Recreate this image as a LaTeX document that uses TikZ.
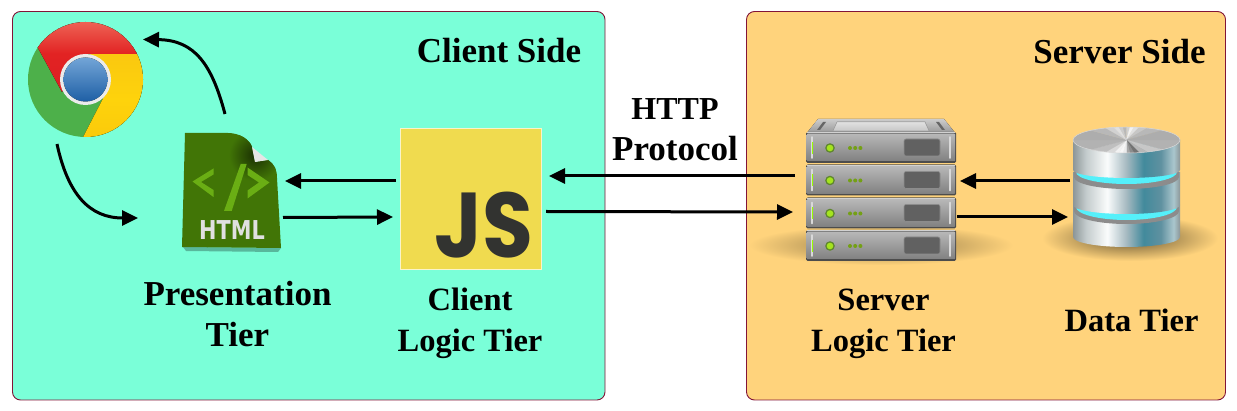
\documentclass[tikz,border=0pt]{standalone}
\usepackage{fontspec}
\setmainfont{Liberation Serif}
\newfontfamily\iconfont{DejaVu Sans}
\newfontfamily\jsfont{Poppins}
\usetikzlibrary{arrows.meta,calc}
\definecolor{clientbg}{RGB}{122,255,216}
\definecolor{serverbg}{RGB}{255,211,124}
\definecolor{panelline}{RGB}{130,20,55}
\definecolor{jsyellow}{RGB}{240,219,79}
\definecolor{jsdark}{RGB}{50,51,48}
\definecolor{htmlgreen}{RGB}{65,117,6}
\definecolor{htmllight}{RGB}{106,174,20}
\definecolor{ringcyan}{RGB}{85,240,250}
\definecolor{ledouter}{RGB}{95,135,45}
\definecolor{ledinner}{RGB}{165,228,30}
\definecolor{chromegreen}{RGB}{77,176,74}
\definecolor{mA}{RGB}{140,150,152}
\definecolor{mB}{RGB}{195,203,204}
\definecolor{mC}{RGB}{250,252,252}
\definecolor{mD}{RGB}{165,185,192}
\definecolor{mE}{RGB}{66,138,156}
\definecolor{mF}{RGB}{95,145,160}
\definecolor{mG}{RGB}{170,198,205}
\pgfdeclarehorizontalshading{metal}{100bp}{color(0bp)=(mA); color(25bp)=(mA); color(31bp)=(mB); color(41bp)=(mC); color(50bp)=(mD); color(58bp)=(mE); color(66bp)=(mF); color(72bp)=(mG); color(75bp)=(mA); color(100bp)=(mA)}
\tikzset{
  panel/.style={draw=panelline,line width=0.9pt,rounded corners=8pt},
  label/.style={font=\fontsize{35}{41}\selectfont\bfseries,align=center,anchor=base,inner sep=0pt},
  labelsmall/.style={label,font=\fontsize{32.5}{41}\selectfont\bfseries},
  link/.style={line width=3pt,-{Triangle[length=16pt,width=15pt]}},
  iconbox/.style={inner sep=0pt,outer sep=0pt},
  grille/.style={fill=black!62,draw=black!45,line width=0.6pt,rounded corners=2pt},
  handle/.style={draw=white!85!black,line width=1.6pt,line cap=round},
  metalband/.style={shading=metal,shading angle=0},
}
\begin{document}
\begin{tikzpicture}[x=1pt,y=-1pt]
\useasboundingbox (0,0) rectangle (1237,411);
% panels
\node[panel,fill=clientbg,iconbox,minimum width=592.5pt,minimum height=388.5pt] (client) at (308.75,205.75) {};
\node[panel,fill=serverbg,iconbox,minimum width=479pt,minimum height=388.5pt] (server side) at (986,205.75) {};
% chrome
\node[iconbox,circle,minimum size=115pt] (chrome) at (85.5,79.5) {};
\begin{scope}
  \clip (85.5,79.5) circle (57.5);
  \fill[chromegreen] (20,15) rectangle (150,145);
  \fill[top color={rgb,255:red,250;green,200;blue,15},bottom color={rgb,255:red,250;green,200;blue,10},middle color={rgb,255:red,254;green,211;blue,12}] (90,54) -- (150,54) -- (150,145) -- (79,145) -- (110,85) -- cycle;
  \fill[top color={rgb,255:red,240;green,112;blue,95},bottom color={rgb,255:red,222;green,30;blue,35},middle color={rgb,255:red,226;green,35;blue,35}] (85.5,54) -- (150,54) -- (150,15) -- (20,15) -- (20,17) -- (38,48) -- (62,92) -- cycle;
\end{scope}
\fill[white!92!black] (85.5,79.5) circle (25.5);
\fill[top color={rgb,255:red,115;green,165;blue,215},bottom color={rgb,255:red,30;green,95;blue,165}] (85.5,79.5) circle (22);
% html
\node[iconbox,minimum width=99pt,minimum height=115pt] (html) at (231.5,190.5) {};
\fill[black!28!clientbg] (183,247) -- (281,248) -- (278,252) -- (186,251) -- cycle;
\begin{scope}
  \clip (185,133) -- (228,133) .. controls (240,133) and (250,140) .. (252,147) -- (255,162) -- (268,160) .. controls (275,165) and (277,170) .. (277,178) -- (281,248) -- (182,247) -- cycle;
  \fill[htmlgreen] (175,125) rectangle (290,255);
  \shade[inner color=black!60!htmlgreen,outer color=htmlgreen] (255,155) circle (26);
\end{scope}
\fill[white!90!black] (252,147) -- (268,160) -- (255,162) -- cycle;
\fill[htmllight] (213.5,168.5) -- (192.5,181.5) -- (213.5,197) -- (213.5,190) -- (201,182) -- (213.5,174.5) -- cycle;
\fill[htmllight] (247.5,167.5) -- (269.5,182.5) -- (247.5,198.5) -- (247.5,190.5) -- (259,182.5) -- (247.5,175) -- cycle;
\fill[htmllight] (240.7,164) -- (246.7,164) -- (231.7,211) -- (224,211) -- cycle;
\node[iconbox,text=white!88!black,anchor=base,xscale=0.8] (htmltext) at (232,240) {\fontsize{26}{26}\selectfont\iconfont\bfseries HTML};
% js
\node[iconbox,fill=jsyellow,draw=white!70!jsyellow,line width=0.6pt,minimum size=141pt] (js) at (471,198.5) {};
\node[iconbox,text=jsdark,anchor=base,xscale=0.9] (jstext) at (484,258) {\raisebox{0pt}[0pt][0pt]{\fontsize{92}{92}\selectfont\jsfont\bfseries JS}};
% server
\node[iconbox,minimum width=150pt,minimum height=142pt] (server) at (881,190) {};
\shade[inner color=black!45!serverbg,outer color=serverbg] (881,245) ellipse (132 and 20);
\fill[top color=black!20,bottom color=black!42] (818,119) -- (944,119) -- (956,134) -- (806,134) -- cycle;
\fill[top color=black!12,bottom color=black!22,draw=black!35,line width=0.5pt] (837,122) -- (925,122) -- (929,131) -- (833,131) -- cycle;
\fill[black!60] (817,130) -- (823,122) -- (826,122) -- (820,130) -- cycle;
\fill[black!60] (942,130) -- (936,122) -- (939,122) -- (945,130) -- cycle;
\foreach \t in {132,164.5,197.5,230}{
  \fill[black!70,rounded corners=1.5pt] (806,\t) rectangle (956,\t+31);
  \fill[top color=black!28,bottom color=black!50,rounded corners=1pt] (806.7,\t+1.5) rectangle (955.3,\t+29.5);
  \draw[white!82!black,line width=1pt] (807,\t+1) -- (955,\t+1);
  \draw[handle] (812,\t+5) -- (812,\t+26);
  \draw[handle] (950,\t+5) -- (950,\t+26);
  \draw[lime!80!green,line width=1pt] (812,\t+10) -- (812,\t+22);
  \fill[ledouter] (830,\t+16) circle (4.8);
  \fill[ledinner] (830,\t+16) circle (3.3);
  \foreach \d in {850,855.2,860.4}{
    \fill[ledinner!70!black] (\d,\t+16) circle (2);
  }
  \node[grille,iconbox,anchor=north west,minimum width=36pt,minimum height=17pt] at (904,\t+7) {};
}
% database
\node[iconbox,minimum width=107pt,minimum height=120pt] (db) at (1126.5,187) {};
\shade[inner color=black!60!serverbg,outer color=serverbg] (1130,238) ellipse (88 and 23);
% bottom band and its lip
\path[metalband] (1073,205) -- (1180,205) -- (1180,237) arc (0:180:53.5 and 10) -- cycle;
\fill[black!45] (1074,205) -- (1179,205) -- (1179,211) arc (0:180:52.5 and 13) -- cycle;
\fill[ringcyan] (1076,200) -- (1177,200) -- (1177,207) arc (0:180:50.5 and 13) -- cycle;
% middle band
\path[metalband] (1073,172) -- (1180,172) -- (1180,205) arc (0:180:53.5 and 9) -- cycle;
\fill[black!45] (1074,172) -- (1179,172) -- (1179,177) arc (0:180:52.5 and 12) -- cycle;
\fill[ringcyan] (1076,165) -- (1177,165) -- (1177,172) arc (0:180:50.5 and 12) -- cycle;
% top band
\path[metalband] (1073,140) -- (1180,140) -- (1180,170) arc (0:180:53.5 and 8) -- cycle;
\begin{scope}
  \clip (1126.5,140) ellipse (53.5 and 13);
  \foreach \a/\g in {0/30,15/22,30/28,45/55,60/45,75/35,90/8,105/3,120/5,135/15,150/25,165/30,180/32,195/28,210/18,225/12,240/20,255/28,270/18,285/5,300/12,315/22,330/28,345/32}{
    \fill[black!\g,draw=black!\g,line width=0.2pt] (1126.5,140) -- +(\a:70) -- +(\a+15:70) -- cycle;
  }
\end{scope}
\draw[white!85!black,line width=0.5pt] (1126.5,140) ellipse (53.5 and 13);
% labels
\node[label] (clientlabel) at (499,63) {Client Side};
\node[label] (serverlabel) at (1119.5,64) {Server Side};
\node[label] (http) at (675,161) {\fontsize{32}{41}\selectfont HTTP\\Protocol};
\node[label] (pres) at (237.5,347) {Presentation\\Tier};
\node[labelsmall] (clogic) at (470,352) {Client\\Logic Tier};
\node[labelsmall] (slogic) at (883.5,352) {Server\\Logic Tier};
\node[labelsmall] (data) at (1131.5,332) {Data Tier};
% connectors
\draw[link] ([shift={(-6.5,-19)}]html.north) .. controls (212,65) and (195,40) .. ([shift={(0,-40)}]chrome.east);
\draw[link] ([shift={(-28.5,7)}]chrome.south) .. controls (68,195) and (90,218) .. ([shift={(-44,27.5)}]html.west);
\draw[link] ([shift={(-4.5,-17.5)}]js.west) -- ([shift={(4,-9.5)}]html.east);
\draw[link] ([shift={(2,27)}]html.east) -- ([shift={(-7.5,18.5)}]js.west);
\draw[link] ([shift={(-11,-14)}]server.west) -- ([shift={(7.5,-22.5)}]js.east);
\draw[link] ([shift={(4.5,13)}]js.east) -- ([shift={(-13,22)}]server.west);
\draw[link] ([shift={(-3,-6)}]db.west) -- ([shift={(4,-9)}]server.east);
\draw[link] ([shift={(1,27)}]server.east) -- ([shift={(-5,30)}]db.west);
\end{tikzpicture}
\end{document}
